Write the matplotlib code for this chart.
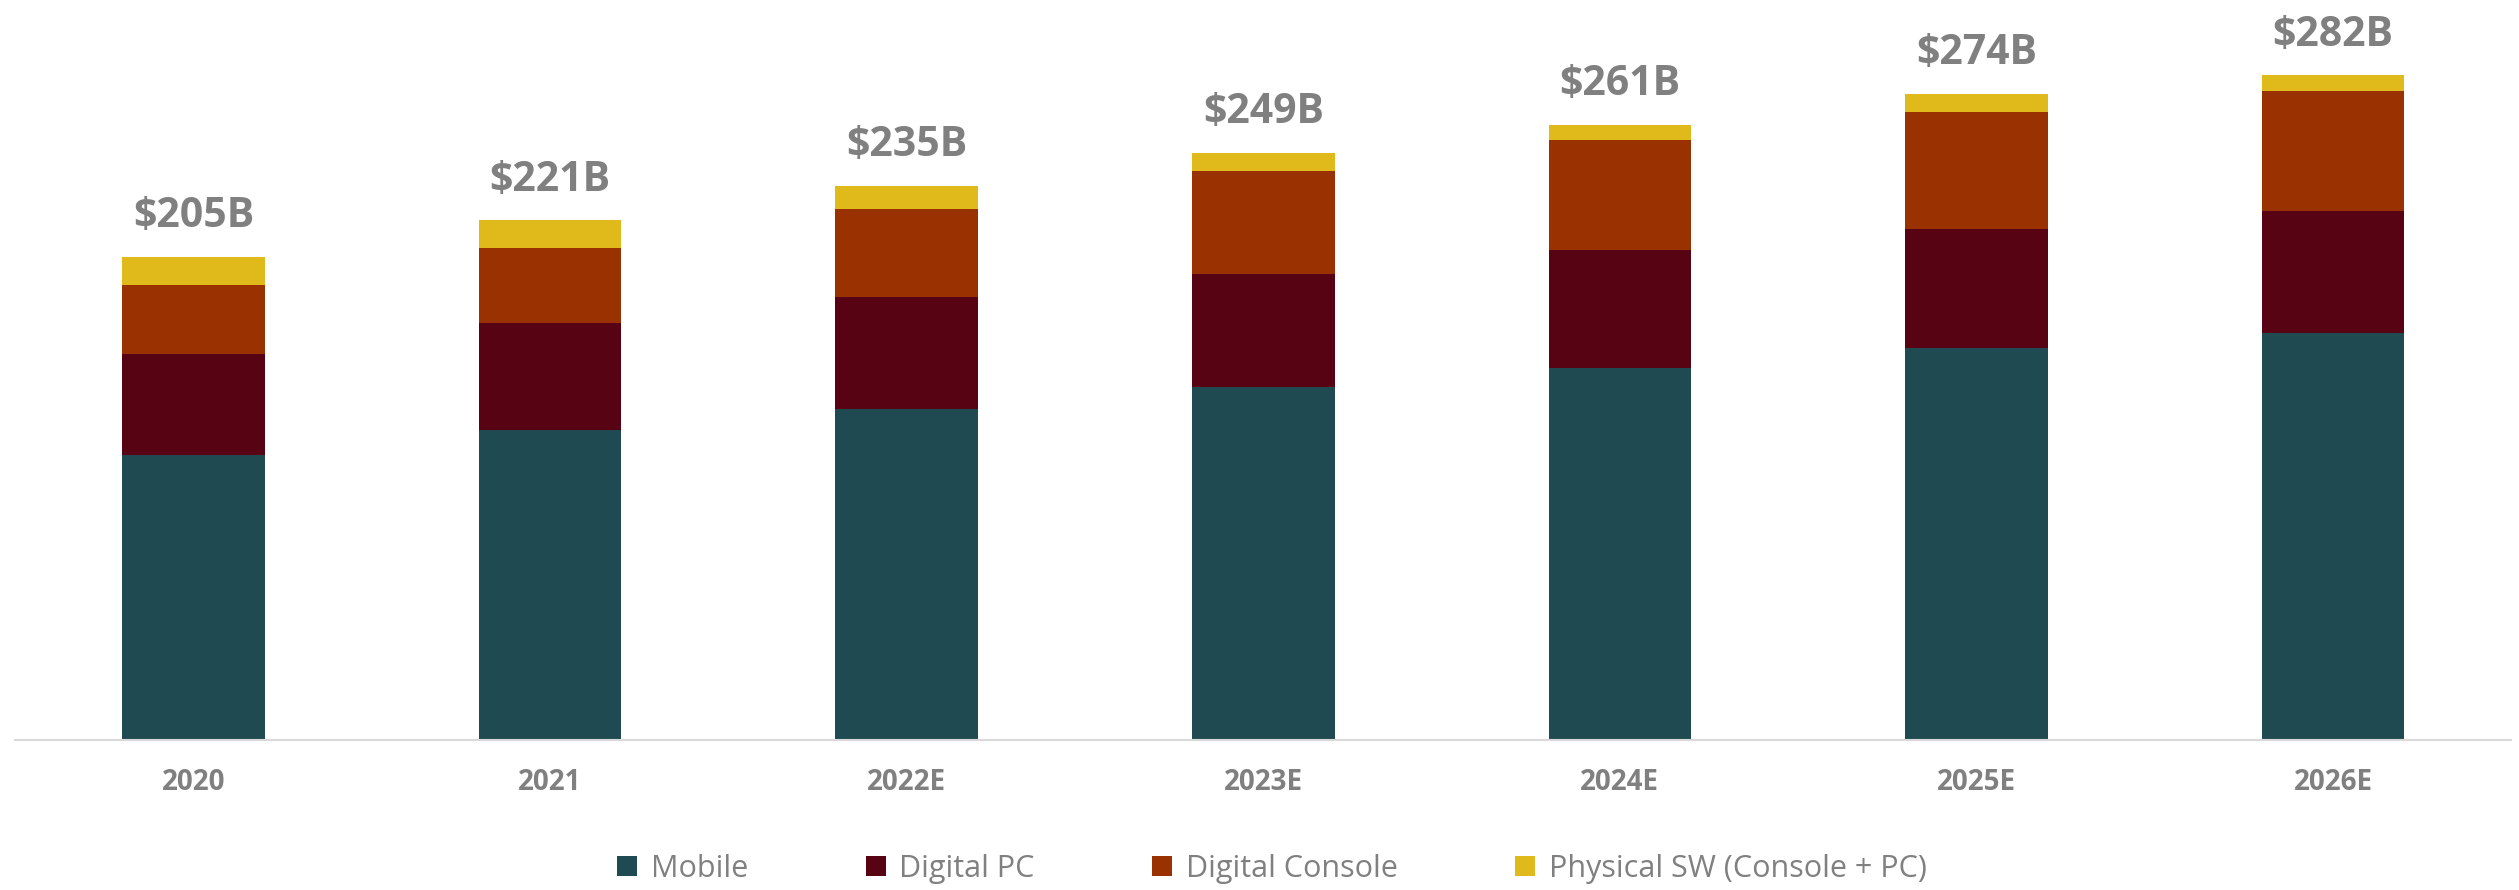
import matplotlib.pyplot as plt
import numpy as np

years = ['2020', '2021', '2022E', '2023E', '2024E', '2025E', '2026E']
mobile = [121, 131.5, 140.5, 150, 158, 166.5, 173]
digital_pc = [43, 45.5, 47.5, 48, 50, 50.5, 51.5]
digital_console = [29, 32, 37.5, 43.5, 46.5, 49.5, 51]
physical_sw = [12, 11.5, 9.5, 7.5, 6.5, 7.5, 6.5]
totals = ['$205B', '$221B', '$235B', '$249B', '$261B', '$274B', '$282B']

series = [mobile, digital_pc, digital_console, physical_sw]
names = ['Mobile', 'Digital PC', 'Digital Console', 'Physical SW (Console + PC)']
colors = ['#1F4A52', '#570314', '#9A3100', '#E0BA1A']

plt.rcParams['font.family'] = ['Open Sans', 'DejaVu Sans']

fig = plt.figure(figsize=(25.19, 8.9), dpi=100)
ax = fig.add_axes([0.006, 0.168, 0.991, 0.832])

x = np.arange(len(years))
bottom = np.zeros(len(years))
for vals, name, col in zip(series, names, colors):
    ax.bar(x, vals, 0.4, bottom=bottom, color=col, label=name, linewidth=0)
    bottom = bottom + np.array(vals)

# total labels above each stack
for xi, top, lab in zip(x, bottom, totals):
    ax.text(xi, top + 12.7, lab, ha='center', va='baseline', fontsize=29.5,
            fontweight='bold', color='#808080')

ax.set_xlim(-0.5, 6.5)
ax.set_ylim(0, 314)
ax.set_xticks(x)
ax.set_xticklabels(years, fontsize=20, fontweight='bold', color='#808080')
ax.tick_params(axis='x', length=0, pad=20)
ax.set_yticks([])
for s in ['top', 'right', 'left']:
    ax.spines[s].set_visible(False)
ax.spines['bottom'].set_color('#d9d9d9')
ax.spines['bottom'].set_linewidth(1.5)

fig.legend(loc='center', bbox_to_anchor=(0.505, 0.024), ncol=4, frameon=False,
           fontsize=22, labelcolor='#808080', handlelength=0.65, handleheight=0.65,
           handletextpad=0.45, columnspacing=3.85)

fig.savefig('out.png', dpi=100)
